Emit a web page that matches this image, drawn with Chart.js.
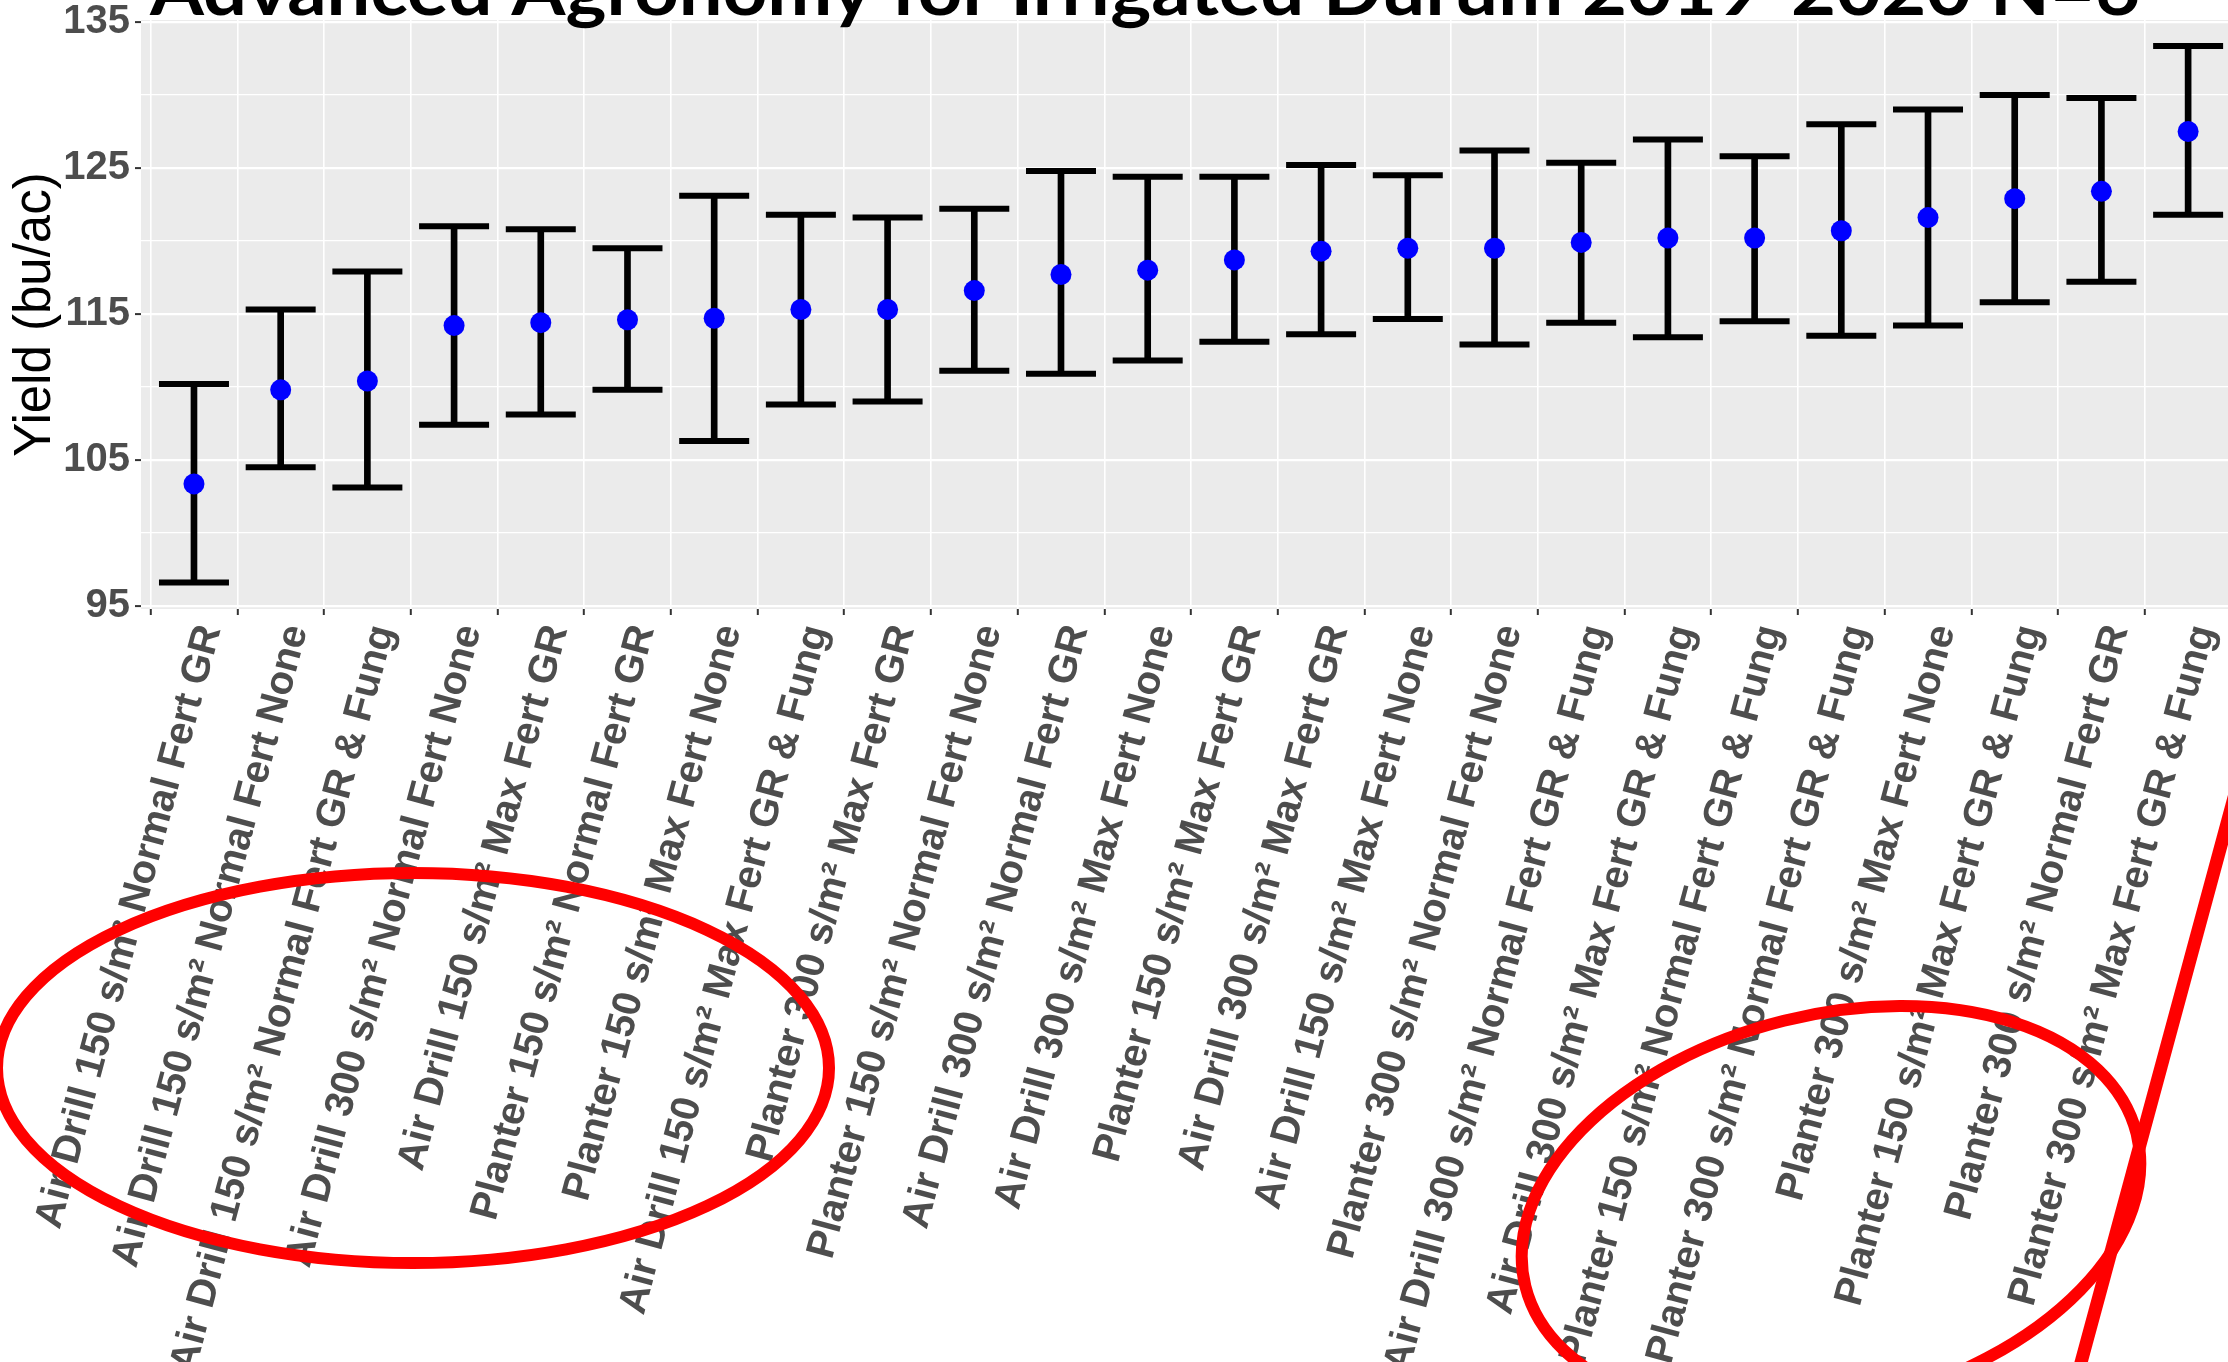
<!DOCTYPE html>
<html>
<head>
<meta charset="utf-8">
<script src="https://cdn.jsdelivr.net/npm/chart.js@4.4.0/dist/chart.umd.min.js"></script>
<style>
  html, body { margin: 0; padding: 0; background: #fff; }
  #wrap { width: 2228px; height: 1362px; position: relative; }
</style>
</head>
<body>
<div id="wrap"><canvas id="chart-yield"></canvas></div>
<script>
const categories = [
  'Air Drill 150 s/m² Normal Fert GR',
  'Air Drill 150 s/m² Normal Fert None',
  'Air Drill 150 s/m² Normal Fert GR & Fung',
  'Air Drill 300 s/m² Normal Fert None',
  'Air Drill 150 s/m² Max Fert GR',
  'Planter 150 s/m² Normal Fert GR',
  'Planter 150 s/m² Max Fert None',
  'Air Drill 150 s/m² Max Fert GR & Fung',
  'Planter 300 s/m² Max Fert GR',
  'Planter 150 s/m² Normal Fert None',
  'Air Drill 300 s/m² Normal Fert GR',
  'Air Drill 300 s/m² Max Fert None',
  'Planter 150 s/m² Max Fert GR',
  'Air Drill 300 s/m² Max Fert GR',
  'Air Drill 150 s/m² Max Fert None',
  'Planter 300 s/m² Normal Fert None',
  'Air Drill 300 s/m² Normal Fert GR & Fung',
  'Air Drill 300 s/m² Max Fert GR & Fung',
  'Planter 150 s/m² Normal Fert GR & Fung',
  'Planter 300 s/m² Normal Fert GR & Fung',
  'Planter 300 s/m² Max Fert None',
  'Planter 150 s/m² Max Fert GR & Fung',
  'Planter 300 s/m² Normal Fert GR',
  'Planter 300 s/m² Max Fert GR & Fung'
];

const yieldMean = [103.35, 109.8, 110.4, 114.2, 114.4, 114.6, 114.7, 115.3, 115.3, 116.6, 117.7, 118.0,
                   118.7, 119.3, 119.5, 119.5, 119.9, 120.2, 120.2, 120.7, 121.6, 122.9, 123.4, 127.5];
const yieldLow  = [96.6, 104.5, 103.1, 107.4, 108.1, 109.8, 106.3, 108.8, 109.0, 111.1, 110.9, 111.8,
                   113.1, 113.6, 114.65, 112.9, 114.4, 113.4, 114.5, 113.5, 114.2, 115.8, 117.2, 121.8];
const yieldHigh = [110.2, 115.3, 117.9, 121.0, 120.8, 119.5, 123.1, 121.8, 121.6, 122.2, 124.8, 124.4,
                   124.4, 125.2, 124.5, 126.2, 125.35, 126.95, 125.8, 128.0, 129.0, 130.0, 129.8, 133.35];

const yMajorTicks = [95, 105, 115, 125, 135];

const titleText = 'Advanced Agronomy for Irrigated Durum 2019-2020 N=6';

const panelBackground = {
  id: 'panelBackground',
  beforeDraw(chart) {
    const { ctx, chartArea: a } = chart;
    ctx.save();
    ctx.fillStyle = '#EBEBEB';
    ctx.fillRect(a.left, a.top, a.right - a.left, a.bottom - a.top);
    ctx.restore();
  }
};

// slide title (cut off at the top) and the red marker strokes drawn over the figure
const slideOverlay = {
  id: 'slideOverlay',
  afterDraw(chart) {
    const ctx = chart.ctx;
    ctx.save();
    ctx.font = 'bold 70px Lato';
    ctx.fillStyle = '#000';
    ctx.textBaseline = 'alphabetic';
    ctx.textAlign = 'left';
    const w = ctx.measureText(titleText).width;
    ctx.translate(150, 15);
    ctx.scale(1990 / w, 1);
    ctx.fillText(titleText, 0, 0);
    ctx.restore();

    ctx.save();
    ctx.strokeStyle = '#FF0000';
    ctx.lineWidth = 12;
    ctx.beginPath();
    ctx.ellipse(413, 1068, 416, 195, 0, 0, Math.PI * 2);
    ctx.stroke();
    ctx.beginPath();
    ctx.ellipse(1831, 1210, 315, 195, -0.244, 0, Math.PI * 2);
    ctx.stroke();
    ctx.lineWidth = 13;
    ctx.beginPath();
    ctx.moveTo(2236, 790);
    ctx.lineTo(2079, 1370);
    ctx.stroke();
    ctx.restore();
  }
};

const ctx = document.getElementById('chart-yield');

new Chart(ctx, {
  type: 'scatter',
  data: {
    datasets: [
      {
        type: 'bar',
        label: 'range',
        data: categories.map((_, i) => ({ x: i, y: [yieldLow[i], yieldHigh[i]] })),
        backgroundColor: '#000',
        borderWidth: 0,
        barThickness: 6,
        order: 2
      },
      {
        label: 'caps',
        data: categories.flatMap((_, i) => [{ x: i, y: yieldLow[i] }, { x: i, y: yieldHigh[i] }]),
        pointStyle: 'line',
        pointRadius: 35,
        borderColor: '#000',
        pointBorderWidth: 6,
        order: 1
      },
      {
        label: 'mean',
        data: categories.map((_, i) => ({ x: i, y: yieldMean[i] })),
        pointRadius: 10.5,
        backgroundColor: '#0000FF',
        borderWidth: 0,
        order: 0
      }
    ]
  },
  options: {
    responsive: true,
    maintainAspectRatio: false,
    animation: false,
    events: [],
    layout: { autoPadding: false, padding: { top: 20, left: 0, right: 0, bottom: 0 } },
    plugins: {
      legend: { display: false },
      tooltip: { enabled: false }
    },
    scales: {
      x: {
        type: 'linear',
        min: -0.611,
        max: 23.46,
        offset: false,
        border: { display: false },
        grid: {
          color: '#FFFFFF',
          lineWidth: 1.6,
          drawTicks: true,
          tickLength: 6,
          tickColor: '#333333',
          tickWidth: 2
        },
        ticks: {
          stepSize: 1,
          includeBounds: false,
          autoSkip: false,
          maxRotation: 75,
          minRotation: 75,
          padding: 5,
          labelOffset: 16,
          color: '#4D4D4D',
          font: { family: 'Liberation Sans', weight: 'bold', size: 40 },
          callback: (v) => categories[v] ?? ''
        },
        afterFit(scale) {
          scale.height = 753;
          scale.paddingLeft = 0;
          scale.paddingRight = 0;
        }
      },
      y: {
        type: 'linear',
        min: 94.78,
        max: 135.14,
        beginAtZero: false,
        border: { display: false },
        grid: {
          color: '#FFFFFF',
          lineWidth: (c) => (yMajorTicks.includes(c.tick.value) ? 2.2 : 1.3),
          drawTicks: true,
          tickLength: 6,
          tickColor: (c) => (yMajorTicks.includes(c.tick.value) ? '#333333' : 'rgba(0,0,0,0)'),
          tickWidth: 2
        },
        ticks: {
          stepSize: 5,
          includeBounds: false,
          padding: 5,
          color: '#4D4D4D',
          font: { family: 'Liberation Sans', weight: 'bold', size: 40 },
          callback: (v) => (yMajorTicks.includes(v) ? String(v) : '')
        },
        title: {
          display: true,
          text: 'Yield (bu/ac)',
          color: '#000',
          padding: { top: 5, bottom: 0 },
          font: { family: 'Liberation Sans', size: 51, lineHeight: 1.2 }
        },
        afterFit(scale) {
          scale.width = 141;
          scale.paddingTop = 0;
          scale.paddingBottom = 0;
        }
      }
    }
  },
  plugins: [panelBackground, slideOverlay]
});
</script>
</body>
</html>
